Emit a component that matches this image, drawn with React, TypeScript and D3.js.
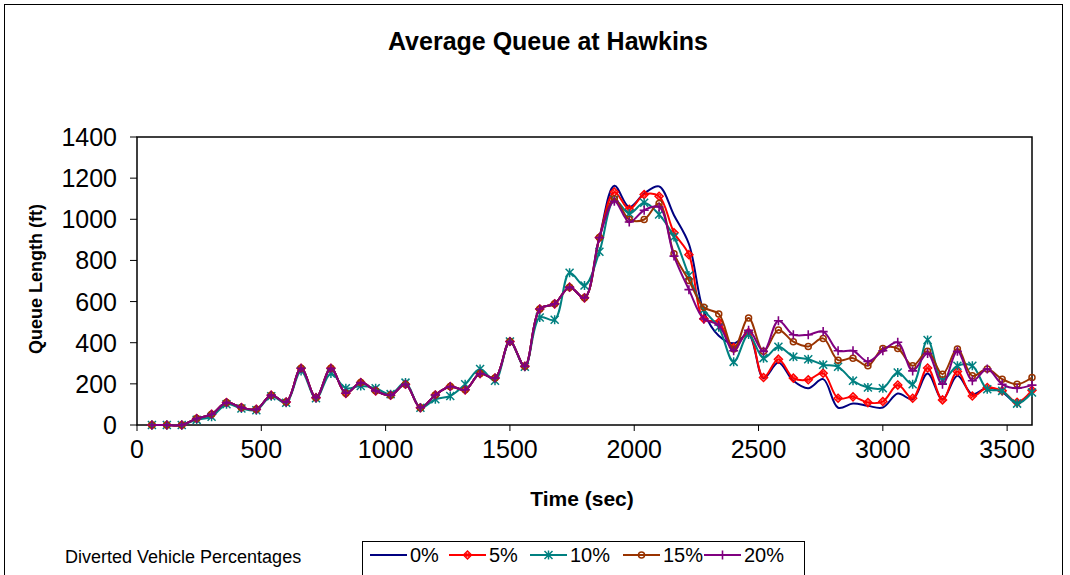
import React from "react";
import * as d3 from "d3";

const times = [60,120,180,240,300,360,420,480,540,600,660,720,780,840,900,960,1020,1080,1140,1200,1260,1320,1380,1440,1500,1560,1620,1680,1740,1800,1860,1920,1980,2040,2100,2160,2220,2280,2340,2400,2460,2520,2580,2640,2700,2760,2820,2880,2940,3000,3060,3120,3180,3240,3300,3360,3420,3480,3540,3600];

const pct0 = [0,0,0,31,52,109,85,76,145,112,276,133,276,154,206,166,145,198,84,146,187,171,250,228,406,285,564,589,670,618,911,
  1163,1060,1125,1160,1020,880,550,434,397,440,228,304,215,179,223,84,104,93,85,153,125,250,125,239,150,181,160,107,165];
const pct5 = [0,0,0,31,52,109,85,76,145,112,276,133,276,154,206,166,145,198,84,146,187,171,250,228,406,285,564,589,670,618,911,
  1133,1049,1120,1112,935,828,516,499,377,450,231,320,228,220,252,130,137,109,114,194,130,277,122,260,141,182,166,110,169];
const pct10 = [0,0,0,25,40,101,80,72,140,108,263,130,250,179,190,179,150,206,84,125,141,198,272,215,406,283,523,512,740,678,842,
  1095,1028,1080,1023,914,727,560,475,307,440,325,380,332,320,293,283,215,182,179,255,198,413,218,288,288,174,166,104,158];
const pct15 = [0,0,0,31,52,109,85,76,145,112,276,133,276,154,206,166,145,198,84,146,187,171,250,228,406,285,564,589,670,618,911,
  1100,999,999,1077,833,702,572,540,369,520,358,462,405,382,421,315,325,288,372,372,288,358,247,369,239,272,223,198,231];
const pct20 = [0,0,0,31,52,109,85,76,145,112,276,133,276,154,206,166,145,198,84,146,187,171,250,228,406,285,564,589,670,618,911,
  1088,987,1044,1060,821,658,515,486,361,460,358,507,439,439,454,361,361,309,361,402,263,348,198,358,215,272,198,179,194];

const seriesNames = ["0%", "5%", "10%", "15%", "20%"];
const seriesColors = ["#000080", "#FF0000", "#008080", "#993300", "#800080"];
const seriesMarkers = ["none", "diamond", "asterisk", "circle", "plus"];
const seriesValues = [pct0, pct5, pct10, pct15, pct20];

const xTicks = [0, 500, 1000, 1500, 2000, 2500, 3000, 3500];
const yTicks = [0, 200, 400, 600, 800, 1000, 1200, 1400];

const FONT = "'Liberation Sans', Arial, sans-serif";

function Marker({ kind, x, y, color }: { kind: string; x: number; y: number; color: string }) {
  if (kind === "diamond") {
    const s = 4;
    return (
      <g>
        <path d={`M${x},${y - s}L${x + s},${y}L${x},${y + s}L${x - s},${y}Z`} fill="none" stroke={color} strokeWidth={1.5} />
        <circle cx={x} cy={y} r={1.8} fill="none" stroke={color} strokeWidth={1} />
      </g>
    );
  }
  if (kind === "circle") {
    return <circle cx={x} cy={y} r={3} fill="none" stroke={color} strokeWidth={1.5} />;
  }
  if (kind === "plus") {
    const s = 4.5;
    return <path d={`M${x - s},${y}H${x + s}M${x},${y - s}V${y + s}`} stroke={color} strokeWidth={1.6} />;
  }
  if (kind === "asterisk") {
    const s = 4;
    return (
      <path
        d={`M${x - s},${y - s}L${x + s},${y + s}M${x - s},${y + s}L${x + s},${y - s}M${x},${y - s - 0.5}V${y + s + 0.5}`}
        stroke={color}
        strokeWidth={1.5}
      />
    );
  }
  return null;
}

export default function App() {
  const W = 1070, H = 575;
  const left = 137, right = 1032, top = 137, bottom = 425;
  const x = d3.scaleLinear().domain([0, 3600]).range([left, right]);
  const y = d3.scaleLinear().domain([0, 1400]).range([bottom, top]);
  const line = d3
    .line<number>()
    .x((_, i) => x(times[i]))
    .y((d) => y(d))
    .curve(d3.curveCatmullRom.alpha(0.5));

  const legendX = [370, 449, 530, 623, 704];
  const legendY = 555;

  return (
    <svg width={W} height={H} style={{ position: "fixed", left: 0, top: 0 }} fontFamily={FONT}>
      <rect x={0} y={0} width={W} height={H} fill="#fff" />
      <rect x={4.5} y={4.5} width={1058} height={640} fill="none" stroke="#000" strokeWidth={1} />
      <text x={548} y={50} textAnchor="middle" fontSize={25} fontWeight="bold">
        Average Queue at Hawkins
      </text>

      {/* plot area */}
      <rect x={left} y={top} width={right - left} height={bottom - top} fill="#fff" stroke="#000" strokeWidth={1.5} />

      {/* y ticks */}
      {yTicks.map((t) => (
        <g key={"y" + t}>
          <line x1={left - 7} x2={left} y1={y(t)} y2={y(t)} stroke="#000" strokeWidth={1} />
          <text x={117} y={y(t)} dy="0.36em" textAnchor="end" fontSize={25}>
            {t}
          </text>
        </g>
      ))}
      {/* x ticks */}
      {xTicks.map((t) => (
        <g key={"x" + t}>
          <line x1={x(t)} x2={x(t)} y1={bottom} y2={bottom + 6} stroke="#000" strokeWidth={1} />
          <text x={x(t)} y={458} textAnchor="middle" fontSize={25}>
            {t}
          </text>
        </g>
      ))}

      <text transform="translate(42,279) rotate(-90)" textAnchor="middle" fontSize={18} fontWeight="bold">
        Queue Length (ft)
      </text>
      <text x={582} y={506} textAnchor="middle" fontSize={21} fontWeight="bold">
        Time (sec)
      </text>

      {/* series */}
      {seriesValues.map((vals, si) => (
        <g key={"s" + si}>
          <path d={line(vals) || ""} fill="none" stroke={seriesColors[si]} strokeWidth={2} />
          {vals.map((v, i) => (
            <Marker key={i} kind={seriesMarkers[si]} x={x(times[i])} y={y(v)} color={seriesColors[si]} />
          ))}
        </g>
      ))}

      {/* legend */}
      <text x={65} y={563} fontSize={18}>
        Diverted Vehicle Percentages
      </text>
      <rect x={362.5} y={541.5} width={442} height={60} fill="#fff" stroke="#000" strokeWidth={1} />
      {seriesNames.map((n, i) => (
        <g key={"l" + i}>
          <line x1={legendX[i]} x2={legendX[i] + 37} y1={legendY} y2={legendY} stroke={seriesColors[i]} strokeWidth={2} />
          <Marker kind={seriesMarkers[i]} x={legendX[i] + 18.5} y={legendY} color={seriesColors[i]} />
          <text x={legendX[i] + 40} y={legendY} dy="0.36em" fontSize={20}>
            {n}
          </text>
        </g>
      ))}
    </svg>
  );
}
